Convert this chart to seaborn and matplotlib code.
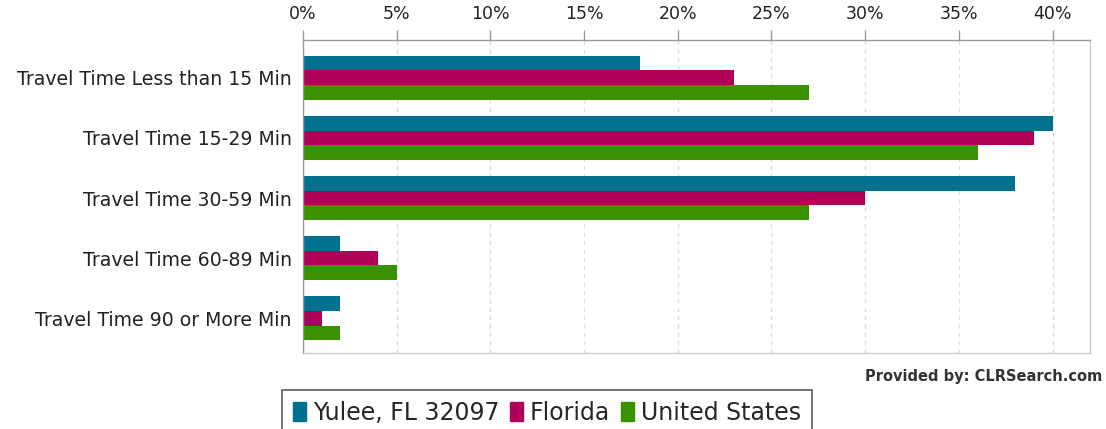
import pandas as pd
import seaborn as sns
from matplotlib import pyplot as plt
from matplotlib.ticker import FuncFormatter

categories = ['Travel Time Less than 15 Min', 'Travel Time 15-29 Min', 'Travel Time 30-59 Min',
              'Travel Time 60-89 Min', 'Travel Time 90 or More Min']
series = ['Yulee, FL 32097', 'Florida', 'United States']
yulee = [18, 40, 38, 2, 2]
florida = [23, 39, 30, 4, 1]
usa = [27, 36, 27, 5, 2]
colors = ['#00728f', '#b00058', '#3a9200']

rows = []
for name, vals in zip(series, [yulee, florida, usa]):
    for cat, v in zip(categories, vals):
        rows.append({'category': cat, 'series': name, 'value': v})
df = pd.DataFrame(rows)

sns.set_style('white')
plt.rcParams['font.family'] = ['DejaVu Sans']

fig = plt.figure(figsize=(11.06, 4.29), dpi=100)
ax = fig.add_axes([303 / 1106, 1 - 353 / 429, (1090 - 303) / 1106, (353 - 40) / 429])

sns.barplot(data=df, x='value', y='category', hue='series', orient='h', palette=colors,
            width=0.74, ax=ax, legend=False, saturation=1, linewidth=0)

ax.set_xlim(0, 42)
ax.set_ylim(4.58, -0.63)
ax.set_xticks(range(0, 45, 5))
ax.xaxis.set_major_formatter(FuncFormatter(lambda v, p: f'{int(v)}%'))
ax.xaxis.tick_top()
ax.tick_params(axis='x', direction='out', length=7, width=1, color='#999999', labelsize=12.5,
               pad=5, labelcolor='#222222')
ax.tick_params(axis='y', length=0, labelsize=13.6, pad=8, labelcolor='#222222')
ax.set_xlabel('')
ax.set_ylabel('')
ax.grid(axis='x', linestyle=(0, (3, 3)), color='#dddddd', linewidth=1)
ax.set_axisbelow(True)
for s in ax.spines.values():
    s.set_color('#999999')
    s.set_linewidth(1)
ax.spines['right'].set_color('#cccccc')
ax.spines['bottom'].set_color('#cccccc')

fig.text(1102 / 1106, 1 - 376 / 429, 'Provided by: CLRSearch.com', ha='right', va='center',
         fontsize=10.5, fontweight='bold', color='#333333')

handles = [plt.Rectangle((0, 0), 1, 1, color=c) for c in colors]
leg = fig.legend(handles, series, loc='upper center', bbox_to_anchor=(547 / 1106, 1 - 390 / 429),
                 ncol=3, fontsize=17, frameon=True, handlelength=0.55, handleheight=0.9,
                 handletextpad=0.3, columnspacing=0.45, borderpad=0.45, borderaxespad=0,
                 fancybox=False)
leg.get_frame().set_edgecolor('#333333')
leg.get_frame().set_linewidth(1.2)

fig.savefig('out.png', dpi=100)
